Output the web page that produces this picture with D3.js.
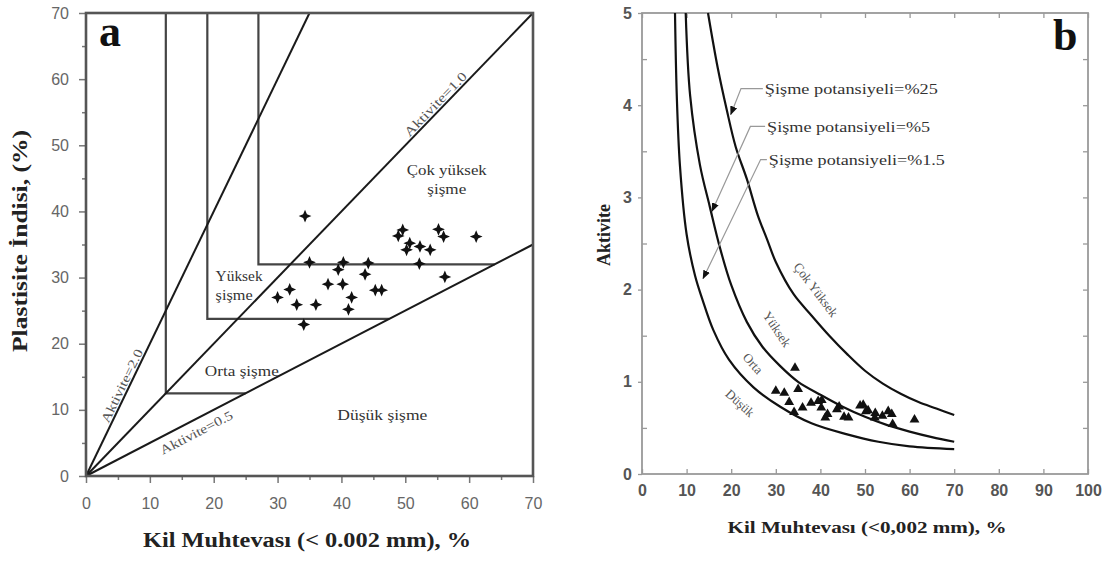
<!DOCTYPE html>
<html>
<head>
<meta charset="utf-8">
<script src="https://cdn.jsdelivr.net/npm/d3@7"></script>
<style>
  body { margin: 0; background: #fff; }
  svg { display: block; }
</style>
</head>
<body>
<div id="chart"></div>
<script>
// ---- panel a : clay content vs plasticity index ----
const clayA = [34.3, 35.0, 40.3, 39.5, 44.2, 43.7, 49.6, 48.9, 50.7, 50.2, 52.3, 53.9, 55.2, 56.0,
  61.1, 52.2, 56.2, 37.9, 40.2, 31.9, 30.0, 33.0, 36.0, 41.6, 41.1, 45.3, 46.3, 34.1];
const piA = [39.3, 32.3, 32.3, 31.2, 32.2, 30.5, 37.2, 36.3, 35.2, 34.2, 34.7, 34.2, 37.3, 36.2,
  36.2, 32.1, 30.1, 29.0, 29.0, 28.2, 27.0, 25.9, 25.9, 27.0, 25.2, 28.1, 28.1, 22.9];

// activity lines and class boundaries (clay limit / PI limit)
const activityLines = [2.0, 1.0, 0.5];
const activityNames = ["Aktivite=2.0", "Aktivite=1.0", "Aktivite=0.5"];
const boundClay = [12.5, 19, 27];
const boundPI = [12.5, 23.75, 32];

const classNamesA = ["Çok yüksek|şişme", "Yüksek|şişme", "Orta şişme", "Düşük şişme"];
const ticksA = [0, 10, 20, 30, 40, 50, 60, 70];

// ---- panel b : clay content vs activity ----
const clayB = [34.3, 35.0, 40.3, 39.5, 44.2, 43.7, 49.6, 48.9, 50.7, 50.2, 52.3, 53.9, 55.2, 56.0,
  61.1, 52.2, 56.2, 37.9, 40.2, 31.9, 30.0, 33.0, 36.0, 41.6, 41.1, 45.3, 46.3, 34.1];
const actB = [1.15, 0.92, 0.80, 0.79, 0.73, 0.70, 0.75, 0.74, 0.69, 0.68, 0.66, 0.63, 0.68, 0.65,
  0.59, 0.61, 0.54, 0.77, 0.72, 0.88, 0.90, 0.78, 0.72, 0.65, 0.61, 0.62, 0.61, 0.67];

// swell potential curves [clay %, activity]
const swell15 = [[7.4, 5.0], [7.8, 4.1], [8.5, 3.35], [10, 2.6], [11.9, 2.15], [13.5, 1.9], [16, 1.56],
  [19.5, 1.24], [25, 0.94], [31, 0.73], [38, 0.55], [46, 0.43], [53, 0.35], [60, 0.3], [70, 0.27]];
const swell5 = [[9.8, 5.0], [10.8, 4.1], [13, 3.35], [15.2, 2.9], [17.5, 2.45], [20, 2.05], [23.5, 1.65],
  [27, 1.38], [31, 1.17], [35, 1.0], [40, 0.86], [45, 0.73], [50, 0.62], [55, 0.53], [60, 0.46],
  [65, 0.4], [70, 0.35]];
const swell25 = [[14.8, 5.0], [17, 4.4], [19, 3.95], [21, 3.55], [23.5, 3.2], [26, 2.8], [28, 2.55],
  [30, 2.3], [34, 1.95], [38, 1.72], [42, 1.5], [46, 1.3], [50, 1.12], [54, 0.98], [58, 0.87],
  [62, 0.78], [66, 0.71], [70, 0.64]];
const swellCurves = [swell15, swell5, swell25];
const swellNames = ["Şişme potansiyeli=%1.5", "Şişme potansiyeli=%5", "Şişme potansiyeli=%25"];
const classNamesB = ["Düşük", "Orta", "Yüksek", "Çok Yüksek"];
const ticksBx = [0, 10, 20, 30, 40, 50, 60, 70, 80, 90, 100];
const ticksBy = [0, 1, 2, 3, 4, 5];

const serif = "'Liberation Serif', 'Times New Roman', serif";
const sans = "'Liberation Sans', Arial, sans-serif";

const svg = d3.select("#chart").append("svg")
  .attr("width", 1109).attr("height", 561);

svg.append("defs").append("marker")
  .attr("id", "arrow")
  .attr("viewBox", "0 0 10 10")
  .attr("refX", 9).attr("refY", 5)
  .attr("markerWidth", 9).attr("markerHeight", 9)
  .attr("markerUnits", "userSpaceOnUse")
  .attr("orient", "auto")
  .append("path").attr("d", "M0,1 L10,5 L0,9 Z").attr("fill", "#111");

// ================= panel a =================
const xa = d3.scaleLinear().domain([0, 70]).range([86, 533]);
const ya = d3.scaleLinear().domain([0, 70]).range([476, 13]);
const ga = svg.append("g");

// minor ticks
ga.append("g").attr("transform", "translate(0,476)")
  .call(d3.axisBottom(xa).tickValues(d3.range(5, 70, 10)).tickSize(4).tickFormat(""))
  .call(g => g.select(".domain").remove())
  .call(g => g.selectAll("line").attr("stroke", "#777").attr("stroke-width", 1.5));
ga.append("g").attr("transform", "translate(86,0)")
  .call(d3.axisLeft(ya).tickValues(d3.range(5, 70, 10)).tickSize(4).tickFormat(""))
  .call(g => g.select(".domain").remove())
  .call(g => g.selectAll("line").attr("stroke", "#777").attr("stroke-width", 1.5));

ga.append("g").attr("transform", "translate(0,476)")
  .call(d3.axisBottom(xa).tickValues(ticksA).tickSize(7).tickPadding(15))
  .call(g => g.select(".domain").remove())
  .call(g => g.selectAll("line").attr("stroke", "#777").attr("stroke-width", 1.5))
  .call(g => g.selectAll("text").attr("font-family", sans).attr("font-size", 16).attr("fill", "#666"));
ga.append("g").attr("transform", "translate(86,0)")
  .call(d3.axisLeft(ya).tickValues(ticksA).tickSize(7).tickPadding(10))
  .call(g => g.select(".domain").remove())
  .call(g => g.selectAll("line").attr("stroke", "#777").attr("stroke-width", 1.5))
  .call(g => g.selectAll("text").attr("font-family", sans).attr("font-size", 16).attr("fill", "#666"));

// class boundaries
boundClay.forEach((c, i) => {
  const p = boundPI[i];
  ga.append("path")
    .attr("d", d3.line()([[xa(c), ya(70)], [xa(c), ya(p)], [xa(p / 0.5), ya(p)]]))
    .attr("fill", "none").attr("stroke", "#444").attr("stroke-width", 2.2);
});

// activity lines
activityLines.forEach((a, i) => {
  const xEnd = Math.min(70, 70 / a);
  ga.append("line")
    .attr("x1", xa(0)).attr("y1", ya(0))
    .attr("x2", xa(xEnd)).attr("y2", ya(a * xEnd))
    .attr("stroke", "#1a1a1a").attr("stroke-width", 2);
});

ga.append("rect")
  .attr("x", 86).attr("y", 13).attr("width", 533 - 86).attr("height", 476 - 13)
  .attr("fill", "none").attr("stroke", "#555").attr("stroke-width", 2.6);

// activity line labels
const actLabelPos = [6.6, 55.5, 16.4];   // clay value along line where label sits
const actLabelOff = [-7, -7, 12];
const actLabelLen = [80, 84, 80];
activityLines.forEach((a, i) => {
  const cx = xa(actLabelPos[i]), cy = ya(a * actLabelPos[i]);
  const ang = Math.atan2(ya(a * 10) - ya(0), xa(10) - xa(0)) * 180 / Math.PI;
  ga.append("text")
    .attr("transform", `translate(${cx},${cy}) rotate(${ang}) translate(0,${actLabelOff[i]})`)
    .attr("text-anchor", "middle").attr("dy", "0.35em")
    .attr("font-family", serif).attr("font-size", 13).attr("fill", "#555")
    .attr("textLength", actLabelLen[i]).attr("lengthAdjust", "spacingAndGlyphs")
    .text(activityNames[i]);
});

// class labels
const classPosA = [[56.5, 46.3], [20.3, 30.2], [24.4, 15.9], [46.4, 9.2]];
const classAnchorA = ["middle", "start", "middle", "middle"];
const classLenA = [[80, 39], [47, 37], [74], [90]];
classNamesA.forEach((name, i) => {
  name.split("|").forEach((ln, j) => {
    ga.append("text")
      .attr("x", xa(classPosA[i][0])).attr("y", ya(classPosA[i][1]) + j * 19)
      .attr("dy", "0.35em").attr("text-anchor", classAnchorA[i])
      .attr("font-family", serif).attr("font-size", 14).attr("fill", "#333")
      .attr("textLength", classLenA[i][j]).attr("lengthAdjust", "spacingAndGlyphs")
      .text(ln);
  });
});

// four point star marker
const star = {
  draw(ctx, size) {
    const r = Math.sqrt(size) * 0.9, w = r * 0.3;
    ctx.moveTo(0, -r); ctx.lineTo(w, -w); ctx.lineTo(r, 0); ctx.lineTo(w, w);
    ctx.lineTo(0, r); ctx.lineTo(-w, w); ctx.lineTo(-r, 0); ctx.lineTo(-w, -w);
    ctx.closePath();
  }
};
ga.append("g").selectAll("path")
  .data(clayA.map((c, i) => [c, piA[i]]))
  .join("path")
  .attr("transform", d => `translate(${xa(d[0])},${ya(d[1])})`)
  .attr("d", d3.symbol().type(star).size(50))
  .attr("fill", "#111");

ga.append("text").attr("x", 99).attr("y", 46)
  .attr("font-family", serif).attr("font-weight", "bold").attr("font-size", 44).attr("fill", "#111")
  .text("a");

ga.append("text").attr("x", 307).attr("y", 547).attr("text-anchor", "middle")
  .attr("font-family", serif).attr("font-weight", "bold").attr("font-size", 20).attr("fill", "#222")
  .attr("textLength", 328).attr("lengthAdjust", "spacingAndGlyphs")
  .text("Kil Muhtevası (< 0.002 mm), %");
ga.append("text").attr("transform", "translate(27,241) rotate(-90)").attr("text-anchor", "middle")
  .attr("font-family", serif).attr("font-weight", "bold").attr("font-size", 20).attr("fill", "#222")
  .attr("textLength", 222).attr("lengthAdjust", "spacingAndGlyphs")
  .text("Plastisite İndisi, (%)");

// ================= panel b =================
const xb = d3.scaleLinear().domain([0, 100]).range([642, 1088]);
const yb = d3.scaleLinear().domain([0, 5]).range([474, 13]);
const gb = svg.append("g");

const tickStyle = g => g.selectAll("line").attr("stroke", "#999").attr("stroke-width", 1.3);
gb.append("g").attr("transform", "translate(0,474)")
  .call(d3.axisTop(xb).tickValues(ticksBx).tickSize(5).tickFormat(""))
  .call(g => g.select(".domain").remove()).call(tickStyle);
gb.append("g").attr("transform", "translate(0,13)")
  .call(d3.axisBottom(xb).tickValues(ticksBx).tickSize(5).tickFormat(""))
  .call(g => g.select(".domain").remove()).call(tickStyle);
gb.append("g").attr("transform", "translate(1088,0)")
  .call(d3.axisLeft(yb).tickValues(d3.range(0.5, 5, 0.5)).tickSize(5).tickFormat(""))
  .call(g => g.select(".domain").remove()).call(tickStyle);
gb.append("g").attr("transform", "translate(642,0)")
  .call(d3.axisRight(yb).tickValues(d3.range(0.5, 5, 1)).tickSize(5).tickFormat(""))
  .call(g => g.select(".domain").remove()).call(tickStyle);

gb.append("g").attr("transform", "translate(0,474)")
  .call(d3.axisBottom(xb).tickValues(ticksBx).tickSize(0).tickPadding(11))
  .call(g => g.select(".domain").remove())
  .call(g => g.selectAll("text").attr("font-family", sans).attr("font-weight", "bold")
    .attr("font-size", 16).attr("fill", "#555"));
gb.append("g").attr("transform", "translate(642,0)")
  .call(d3.axisLeft(yb).tickValues(ticksBy).tickFormat(d3.format("d")).tickSize(4).tickPadding(6))
  .call(g => g.select(".domain").remove()).call(tickStyle)
  .call(g => g.selectAll("text").attr("font-family", sans).attr("font-weight", "bold")
    .attr("font-size", 16).attr("fill", "#555"));

gb.append("rect")
  .attr("x", 642).attr("y", 13).attr("width", 1088 - 642).attr("height", 474 - 13)
  .attr("fill", "none").attr("stroke", "#999").attr("stroke-width", 1.8);

const curveLine = d3.line().x(d => xb(d[0])).y(d => yb(d[1])).curve(d3.curveCatmullRom);
gb.append("g").selectAll("path")
  .data(swellCurves)
  .join("path")
  .attr("d", curveLine)
  .attr("fill", "none").attr("stroke", "#111").attr("stroke-width", 2.2);

// leader lines: text start, elbow, arrow tip (on curve)
const leaders = [
  [[27.1, 4.18], [22.2, 4.18], [19.9, 3.9]],
  [[27.6, 3.77], [24.3, 3.77], [15.7, 2.85]],
  [[28.0, 3.41], [26.6, 3.41], [13.7, 2.12]]
];
const leaderText = [swellNames[2], swellNames[1], swellNames[0]];
const leaderLen = [173, 163, 176];
leaders.forEach((pts, i) => {
  gb.append("path")
    .attr("d", d3.line()(pts.map(p => [xb(p[0]), yb(p[1])])))
    .attr("fill", "none").attr("stroke", "#999").attr("stroke-width", 1.2)
    .attr("marker-end", "url(#arrow)");
  gb.append("text")
    .attr("x", xb(pts[0][0]) + 2).attr("y", yb(pts[0][1]))
    .attr("dy", "0.35em")
    .attr("font-family", serif).attr("font-size", 15).attr("fill", "#333")
    .attr("textLength", leaderLen[i]).attr("lengthAdjust", "spacingAndGlyphs")
    .text(leaderText[i]);
});

// rotated class names between the curves
const classPosB = [[22.0, 0.77, 42], [24.9, 1.2, 48], [30.3, 1.57, 56], [39.0, 2.0, 53]];
classNamesB.forEach((name, i) => {
  const p = classPosB[i];
  gb.append("text")
    .attr("transform", `translate(${xb(p[0])},${yb(p[1])}) rotate(${p[2]})`)
    .attr("text-anchor", "middle").attr("dy", "0.35em")
    .attr("font-family", serif).attr("font-size", 13).attr("fill", "#555")
    .text(name);
});

gb.append("g").selectAll("path")
  .data(clayB.map((c, i) => [c, actB[i]]))
  .join("path")
  .attr("transform", d => `translate(${xb(d[0])},${yb(d[1])})`)
  .attr("d", d3.symbol().type(d3.symbolTriangle).size(42))
  .attr("fill", "#111");

gb.append("text").attr("x", 1053).attr("y", 50)
  .attr("font-family", serif).attr("font-weight", "bold").attr("font-size", 44).attr("fill", "#111")
  .text("b");

gb.append("text").attr("x", 867).attr("y", 533).attr("text-anchor", "middle")
  .attr("font-family", serif).attr("font-weight", "bold").attr("font-size", 17).attr("fill", "#222")
  .attr("textLength", 279).attr("lengthAdjust", "spacingAndGlyphs")
  .text("Kil Muhtevası (<0,002 mm), %");
gb.append("text").attr("transform", "translate(610,235) rotate(-90)").attr("text-anchor", "middle")
  .attr("font-family", serif).attr("font-weight", "bold").attr("font-size", 18).attr("fill", "#222")
  .text("Aktivite");
</script>
</body>
</html>
